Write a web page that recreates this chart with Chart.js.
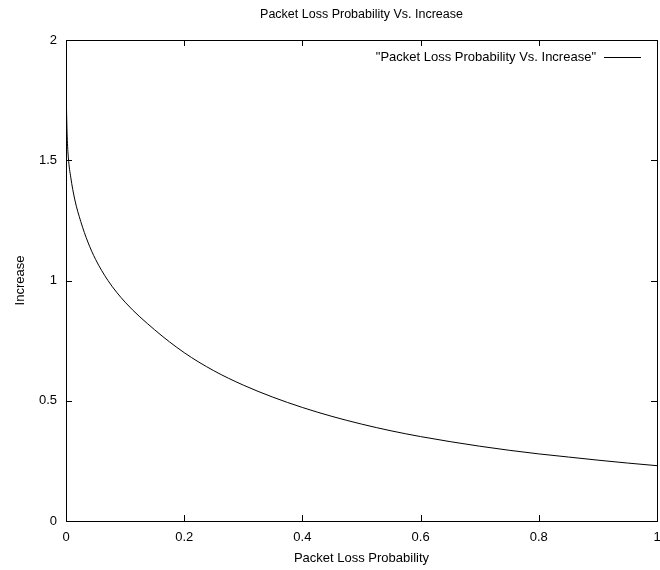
<!DOCTYPE html>
<html>
<head>
<meta charset="utf-8">
<script src="https://cdn.jsdelivr.net/npm/chart.js@4.4.1/dist/chart.umd.min.js"></script>
<style>
html,body{margin:0;padding:0;background:#fff;}
#wrap{width:660px;height:570px;position:relative;}
</style>
</head>
<body>
<div id="wrap"><canvas id="c" width="660" height="570"></canvas></div>
<script>
const chartTitle = "Packet Loss Probability Vs. Increase";
const seriesLabel = "\"Packet Loss Probability Vs. Increase\"";
const xAxisTitle = "Packet Loss Probability";
const yAxisTitle = "Increase";
const lossProbability = [0.0003,0.001,0.002,0.004,0.008,0.015,0.025,0.037,0.05,0.071,0.1,0.15,0.2,0.25,0.3,0.35,0.4,0.45,0.5,0.55,0.6,0.65,0.7,0.75,0.8,0.85,0.9,0.95,1.0];
const increase = [1.80,1.70,1.60,1.51,1.43,1.335,1.245,1.16,1.088,1.00,0.91,0.795,0.70,0.625,0.565,0.515,0.472,0.435,0.403,0.375,0.351,0.330,0.311,0.294,0.279,0.266,0.253,0.241,0.23];
const xTicks = [0,0.2,0.4,0.6,0.8,1];
const yTicks = [0,0.5,1,1.5,2];

const FONT = "'Liberation Sans', Arial, sans-serif";

const gnuplotFrame = {
  id: 'gnuplotFrame',
  afterDraw(chart) {
    const ctx = chart.ctx;
    const a = chart.chartArea;
    const xs = chart.scales.x, ys = chart.scales.y;
    ctx.save();
    ctx.strokeStyle = '#000';
    ctx.lineWidth = 1;
    ctx.strokeRect(Math.round(a.left)+0.5, Math.round(a.top)+0.5, Math.round(a.right-a.left), Math.round(a.bottom-a.top));
    const tl = 6;
    ctx.beginPath();
    xTicks.forEach(v => {
      const px = Math.round(xs.getPixelForValue(v)) + 0.5;
      ctx.moveTo(px, a.bottom); ctx.lineTo(px, a.bottom - tl);
      ctx.moveTo(px, a.top); ctx.lineTo(px, a.top + tl);
    });
    yTicks.forEach(v => {
      const py = Math.round(ys.getPixelForValue(v)) + 0.5;
      ctx.moveTo(a.left, py); ctx.lineTo(a.left + tl, py);
      ctx.moveTo(a.right, py); ctx.lineTo(a.right - tl, py);
    });
    ctx.stroke();
    ctx.fillStyle = '#000';
    ctx.font = '12.5px ' + FONT;
    ctx.textAlign = 'center';
    ctx.textBaseline = 'middle';
    ctx.fillText(chartTitle, (a.left + a.right) / 2, 15);
    ctx.font = '13px ' + FONT;
    const ly = a.top + 17;
    const lineEnd = a.right - 16;
    const lineStart = lineEnd - 37;
    ctx.textAlign = 'right';
    ctx.fillText(chart.data.datasets[0].label, lineStart - 8, ly);
    ctx.beginPath();
    ctx.moveTo(lineStart, Math.round(ly) + 0.5);
    ctx.lineTo(lineEnd, Math.round(ly) + 0.5);
    ctx.stroke();
    ctx.restore();
  }
};

const points = lossProbability.map((p, i) => ({x: p, y: increase[i]}));

new Chart(document.getElementById('c'), {
  type: 'scatter',
  data: {
    datasets: [{
      label: seriesLabel,
      data: points,
      showLine: true,
      borderColor: '#000',
      borderWidth: 1,
      pointRadius: 0,
      cubicInterpolationMode: 'monotone',
      fill: false
    }]
  },
  options: {
    responsive: false,
    animation: false,
    layout: { padding: { top: 40, right: 3, left: 0, bottom: 0 } },
    plugins: {
      legend: { display: false },
      title: { display: false },
      tooltip: { enabled: false }
    },
    scales: {
      x: {
        type: 'linear',
        min: 0, max: 1,
        afterBuildTicks: s => { s.ticks = xTicks.map(v => ({value: v})); },
        afterFit: s => { s.height = 49; s.paddingRight = 0; s.paddingLeft = 0; },
        grid: { display: false, drawTicks: false },
        border: { display: false },
        ticks: { color: '#000', font: { family: FONT, size: 13 }, padding: 9, maxRotation: 0, callback: v => String(v) },
        title: { display: true, text: xAxisTitle, color: '#000', font: { family: FONT, size: 13 }, padding: { top: 3, bottom: 4 } }
      },
      y: {
        type: 'linear',
        min: 0, max: 2,
        afterBuildTicks: s => { s.ticks = yTicks.map(v => ({value: v})); },
        afterFit: s => { s.width = 66; s.paddingTop = 0; s.paddingBottom = 0; },
        grid: { display: false, drawTicks: false },
        border: { display: false },
        ticks: { color: '#000', font: { family: FONT, size: 13 }, padding: 9, callback: v => String(v) },
        title: { display: true, text: yAxisTitle, color: '#000', font: { family: FONT, size: 13 }, padding: { top: 13, bottom: 0 } }
      }
    }
  },
  plugins: [gnuplotFrame]
});
</script>
</body>
</html>
